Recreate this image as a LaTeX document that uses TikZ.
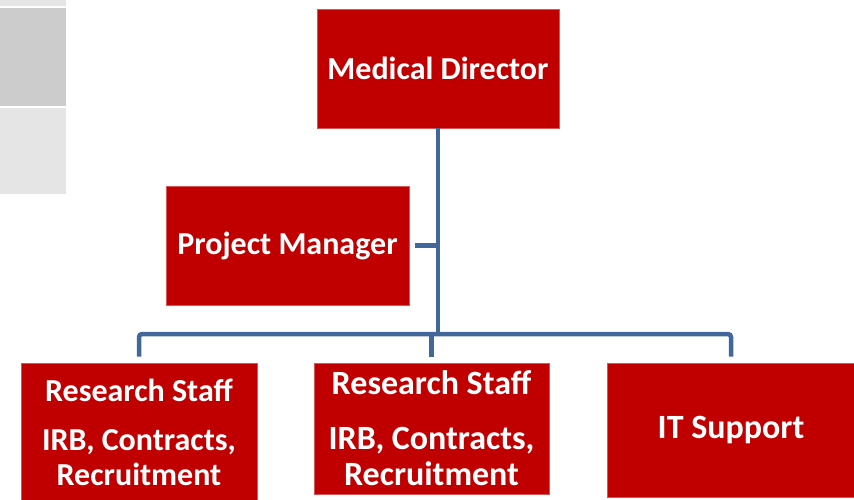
\documentclass[tikz,border=0pt]{standalone}
\usepackage{fontspec}
\setmainfont{Carlito}
\definecolor{boxred}{RGB}{192,0,0}
\definecolor{boxedge}{RGB}{214,86,86}
\definecolor{linkblue}{RGB}{66,104,155}
\tikzset{
  box/.style = {
    fill=boxred, draw=boxedge, line width=0.6pt,
    text=white, align=center, inner sep=0pt
  },
  link/.style = {draw=linkblue, line width=4.5pt, rounded corners=3pt}
}

\begin{document}
\begin{tikzpicture}[x=1pt,y=-1pt]
  \useasboundingbox (0,0) rectangle (854,499);
  \pgfmathsetmacro{\gap}{6}
  % grey tabs on the left edge
  \fill[gray!20] (0,0) rectangle (66,6);
  \fill[gray!40] (0,8) rectangle (66,106);
  \fill[gray!20] (0,108) rectangle (66,194);
  % boxes
  \node[box, minimum width=242pt, minimum height=119pt,
    font=\bfseries\fontsize{32}{36}\selectfont] (director) at (438,68.5)
    {Medical Director};
  \node[box, minimum width=243pt, minimum height=119pt,
    font=\bfseries\fontsize{32}{36}\selectfont] (manager) at (287.5,245.5)
    {Project Manager};
  \node[box, minimum width=236pt, minimum height=139pt,
    font=\bfseries\fontsize{32}{35}\selectfont] (staffA) at (139,432.5)
    {Research Staff\\[14pt] IRB, Contracts,\\ Recruitment};
  \node[box, minimum width=235pt, minimum height=131pt,
    font=\bfseries\fontsize{34}{36}\selectfont] (staffB) at (431.5,428.5)
    {Research Staff\\[19pt] IRB, Contracts,\\ Recruitment};
  \node[box, minimum width=248pt, minimum height=134pt,
    font=\bfseries\fontsize{34}{36}\selectfont] (itsupport) at (731,430)
    {IT Support};
  % links
  \coordinate (bar) at (438,334);
  \draw[link] (director.south) -- (bar);
  \draw[link] ([xshift=\gap pt]manager.east) -- (manager.east -| bar);
  \draw[link] ([yshift=\gap pt]staffA.north) |- (bar) -| ([yshift=\gap pt]itsupport.north);
  \draw[link] ([yshift=\gap pt]staffB.north) -- (staffB.north |- bar);
\end{tikzpicture}
\end{document}
